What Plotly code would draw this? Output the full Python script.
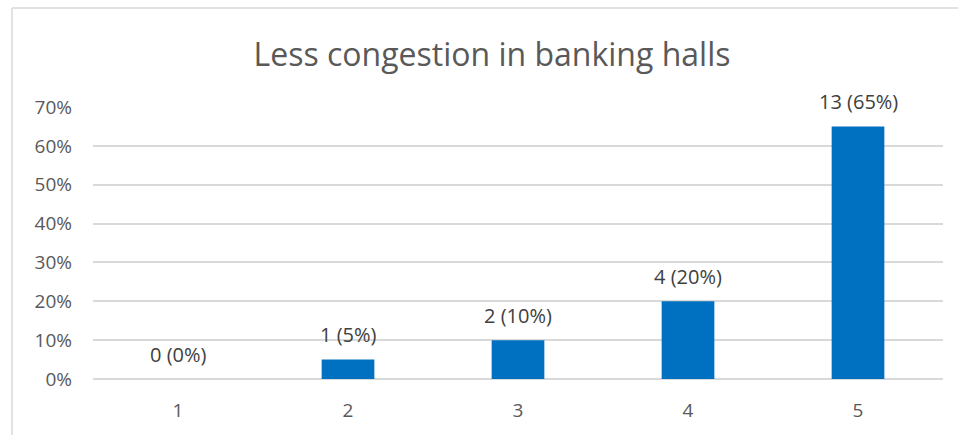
import plotly.graph_objects as go

# Survey responses for "Less congestion in banking halls" (rating scale 1-5)
categories = [1, 2, 3, 4, 5]
counts = [0, 1, 2, 4, 13]
shares = [0.00, 0.05, 0.10, 0.20, 0.65]
y_ticks = [0.0, 0.1, 0.2, 0.3, 0.4, 0.5, 0.6, 0.7]
y_tick_labels = ["0%", "10%", "20%", "30%", "40%", "50%", "60%", "70%"]

W, H = 958, 435
L, R, T, B = 93, 15, 107, 56
pw, ph = W - L - R, H - T - B

BLUE = "#0070C0"
GRID = "#D9D9D9"
TXT = "#595959"
FONT = "Open Sans"

fig = go.Figure(
    go.Bar(
        x=categories,
        y=shares,
        marker=dict(color=BLUE, line=dict(width=0)),
        width=0.31,
        hoverinfo="skip",
    )
)

# value labels above each bar
for c, n, s in zip(categories, counts, shares):
    fig.add_annotation(
        x=c, y=s, text=f"{n} ({s*100:.0f}%)",
        showarrow=False, yanchor="middle", yshift=25,
        font=dict(family=FONT, size=20, color="#404040"),
    )

# chart frame (top and left edges visible)
def px_x(p):
    return (p - L) / pw

def px_y(p):
    return (H - B - p) / ph

fig.add_shape(type="line", xref="paper", yref="paper",
              x0=px_x(12), x1=px_x(W + 10), y0=px_y(8), y1=px_y(8),
              line=dict(color=GRID, width=1.5))
fig.add_shape(type="line", xref="paper", yref="paper",
              x0=px_x(12), x1=px_x(12), y0=px_y(8), y1=px_y(H + 10),
              line=dict(color=GRID, width=1.5))

fig.update_layout(
    width=W, height=H,
    margin=dict(l=L, r=R, t=T, b=B),
    paper_bgcolor="white", plot_bgcolor="white",
    showlegend=False,
    title=dict(
        text="Less congestion in banking halls",
        xref="container", x=492 / W, xanchor="center",
        y=1 - 55 / H, yanchor="middle",
        font=dict(family=FONT, size=32, color=TXT, weight=400),
    ),
    xaxis=dict(
        range=[0.5, 5.5], tickvals=categories,
        showgrid=False, zeroline=False, showline=False,
        ticks="", ticklabelstandoff=18,
        tickfont=dict(family=FONT, size=19, color=TXT),
    ),
    yaxis=dict(
        range=[0, 0.7], tickvals=y_ticks, ticktext=y_tick_labels,
        showgrid=True, gridcolor=GRID, gridwidth=1.5,
        zeroline=True, zerolinecolor=GRID, zerolinewidth=1.5,
        showline=False, ticks="", ticklabelstandoff=20,
        tickfont=dict(family=FONT, size=19, color=TXT),
    ),
)

fig.write_html("out.html")
